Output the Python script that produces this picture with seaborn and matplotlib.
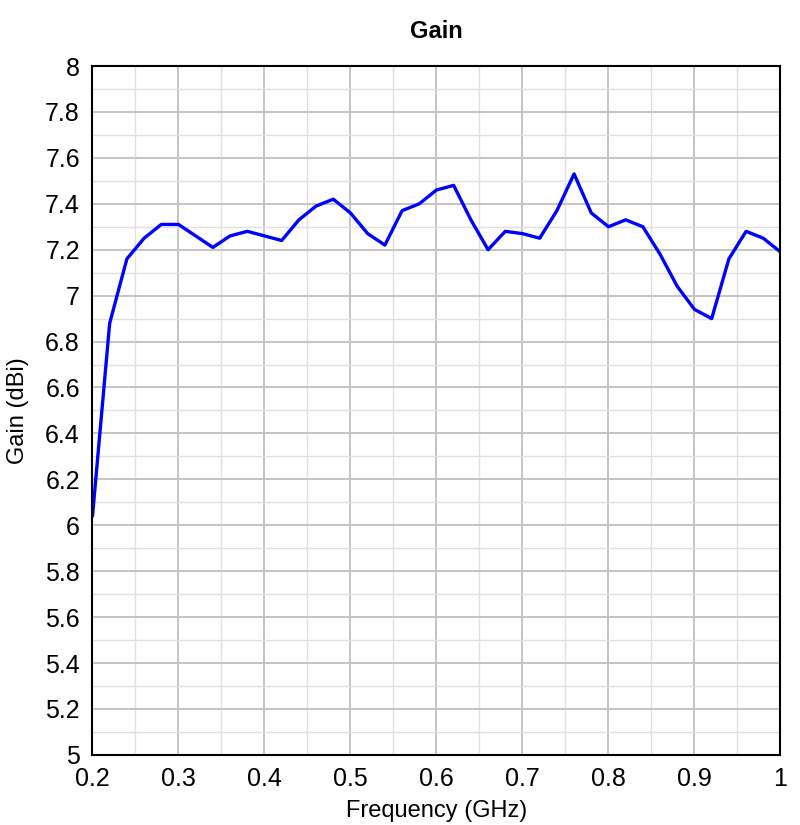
import numpy as np
import pandas as pd
import matplotlib
matplotlib.use("Agg")
import matplotlib.pyplot as plt
from matplotlib.ticker import MultipleLocator
import seaborn as sns

sns.set_style("white")
plt.rcParams["font.family"] = ["Liberation Sans", "DejaVu Sans"]
plt.rcParams["text.color"] = "black"
plt.rcParams["axes.labelcolor"] = "black"
plt.rcParams["xtick.color"] = "black"
plt.rcParams["ytick.color"] = "black"

# frequency sweep (GHz) and measured gain (dBi)
freq_ghz = [0.20, 0.22, 0.24, 0.26, 0.28, 0.30, 0.32, 0.34, 0.36, 0.38,
            0.40, 0.42, 0.44, 0.46, 0.48, 0.50, 0.52, 0.54, 0.56, 0.58,
            0.60, 0.62, 0.64, 0.66, 0.68, 0.70, 0.72, 0.74, 0.76, 0.78,
            0.80, 0.82, 0.84, 0.86, 0.88, 0.90, 0.92, 0.94, 0.96, 0.98, 1.00]
gain_dbi = [6.04, 6.88, 7.16, 7.25, 7.31, 7.31, 7.26, 7.21, 7.26, 7.28,
            7.26, 7.24, 7.33, 7.39, 7.42, 7.36, 7.27, 7.22, 7.37, 7.40,
            7.46, 7.48, 7.33, 7.20, 7.28, 7.27, 7.25, 7.37, 7.53, 7.36,
            7.30, 7.33, 7.30, 7.18, 7.04, 6.94, 6.90, 7.16, 7.28, 7.25, 7.19]
x_labels = ["0.2", "0.3", "0.4", "0.5", "0.6", "0.7", "0.8", "0.9", "1"]

df = pd.DataFrame({"freq": freq_ghz, "gain": gain_dbi})

fig = plt.figure(figsize=(8, 8.25), dpi=100)
ax = fig.add_axes([0.1156, 0.085, 0.86, 0.835])

sns.lineplot(data=df, x="freq", y="gain", color="#0000ff", linewidth=2.4, ax=ax)

ax.set_xlim(0.2, 1.0)
ax.set_ylim(5, 8)
ax.xaxis.set_minor_locator(MultipleLocator(0.05))
ax.yaxis.set_minor_locator(MultipleLocator(0.1))
ax.set_xticks(np.arange(0.2, 1.01, 0.1))
ax.set_xticklabels(x_labels)
y_ticks = np.round(np.arange(5, 8.01, 0.2), 1)
ax.set_yticks(y_ticks)
ax.set_yticklabels([f"{v:g}" for v in y_ticks])

ax.grid(which="major", color="#c4c4c4", linewidth=1.4)
ax.grid(which="minor", color="#e0e0e0", linewidth=1.0)
ax.set_axisbelow(True)
ax.tick_params(which="both", length=0, labelsize=18)
ax.tick_params(axis="x", pad=9)
ax.tick_params(axis="y", pad=9)

for s in ax.spines.values():
    s.set_color("black")
    s.set_linewidth(1.5)

ax.set_xlabel("Frequency (GHz)", fontsize=17, labelpad=6)
ax.set_ylabel("Gain (dBi)", fontsize=17, labelpad=12)
ax.set_title("Gain", fontsize=17, fontweight="bold", pad=20)

plt.savefig("out.png", dpi=100)
plt.close()
